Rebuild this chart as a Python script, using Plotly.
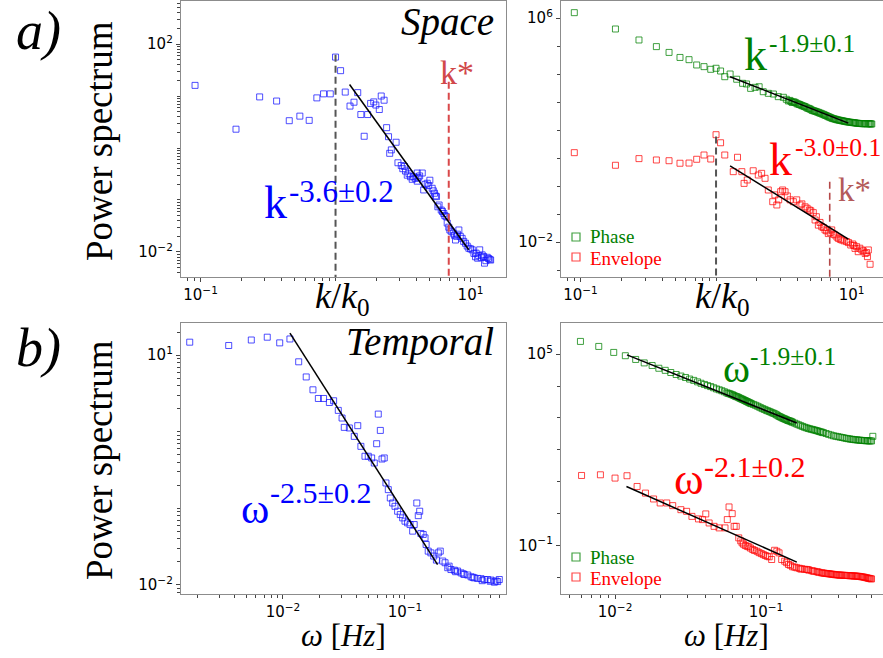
import plotly.graph_objects as go

W, H = 883, 658

# ---------------- data ----------------
# a) spatial spectrum, single series
k_space = [0.091, 0.183, 0.274, 0.366, 0.454, 0.544, 0.638, 0.727, 0.815, 0.914,
           1.0, 1.09, 1.18, 1.28, 1.37, 1.46, 1.54, 1.63, 1.73, 1.82, 1.92, 1.99,
           2.11, 2.18, 2.29, 2.39, 2.47, 2.52, 2.59, 2.81, 2.9, 3.07, 3.15, 3.24,
           3.3, 3.4, 3.5, 3.59, 3.7, 3.8, 3.9, 4.03, 4.03, 4.1, 4.2, 4.39, 4.5,
           4.6, 4.78, 4.9, 5.0, 5.2, 5.3, 5.41, 5.5, 5.6, 5.73, 5.85, 6.07, 6.2,
           6.34, 6.45, 6.6, 6.72, 6.9, 7.03, 7.2, 7.45, 7.6, 7.74, 7.9, 8.0, 8.2,
           8.4, 8.67, 8.9, 9.18, 9.45, 9.72, 10.0, 10.3, 10.6, 10.9, 11.0, 11.3,
           11.5, 11.7, 12.0, 12.2, 12.5, 12.7, 13.0, 13.3, 13.6, 13.9, 14.1]
P_space = [16, 2.3, 9.6, 8.0, 3.35, 4.1, 3.4, 9.2, 11, 11,
           56, 30.7, 11.9, 6.4, 7.6, 11.6, 4.4, 1.68, 4.4, 7.2, 7.7, 6.7,
           5.5, 10, 8.3, 2.46, 1.65, 0.79, 0.92, 1.29, 0.52, 0.46, 0.40, 0.44,
           0.36, 0.30, 0.32, 0.28, 0.25, 0.28, 0.26, 0.33, 0.23, 0.27, 0.29, 0.33, 0.156,
           0.20, 0.21, 0.19, 0.24, 0.168, 0.15, 0.135, 0.12, 0.116, 0.074, 0.08, 0.064, 0.06,
           0.055, 0.05, 0.048, 0.036, 0.03, 0.0265, 0.025, 0.023, 0.021, 0.017, 0.02, 0.022, 0.0265,
           0.02, 0.0183, 0.016, 0.0147, 0.013, 0.0118, 0.0115, 0.011, 0.0094, 0.0081, 0.0095, 0.0076,
           0.0085, 0.011, 0.0078, 0.0088, 0.0082, 0.0061, 0.0068, 0.0079, 0.0075, 0.0072, 0.007]

# a) spatial spectra of phase and envelope
k_phase = [0.09, 0.181, 0.27, 0.363, 0.45, 0.542, 0.632, 0.72, 0.815, 0.914,
           1.0, 1.08, 1.16, 1.27, 1.42, 1.57, 1.68, 1.8, 1.94, 2.08, 2.23, 2.43,
           2.65, 2.88, 3.14, 3.3, 3.42, 3.5, 3.58, 3.65, 3.72, 3.8, 3.88, 3.97,
           4.05, 4.13, 4.22, 4.31, 4.41, 4.5, 4.6, 4.7, 4.8, 4.9, 5.0, 5.11,
           5.22, 5.33, 5.45, 5.57, 5.69, 5.81, 5.93, 6.06, 6.19, 6.32, 6.45, 6.6,
           6.74, 6.88, 7.03, 7.18, 7.34, 7.5, 7.66, 7.83, 8.0, 8.17, 8.35, 8.52,
           8.7, 8.88, 9.07, 9.26, 9.46, 9.66, 9.87, 10.1, 10.3, 10.5, 10.7, 10.95,
           11.2, 11.45, 11.7, 11.95, 12.2, 12.45, 12.7, 13.0, 13.3, 13.5, 13.7,
           13.9, 14.1]
P_phase = [1.55e6, 4.05e5, 1.64e5, 9.5e4, 5.9e4, 3.9e4, 3.25e4, 2.1e4, 1.83e4, 1.47e4,
           1.6e4, 1.28e4, 8.0e3, 1.0e4, 6.5e3, 4.65e3, 4.4e3, 3.07e3, 3.34e3, 3.5e3, 2.33e3, 2.04e3,
           1.93e3, 1.55e3, 1.47e3, 1.25e3, 1.09e3, 1.14e3, 1.05e3, 960, 1.02e3, 980, 935, 860,
           849, 815, 780, 740, 720, 690, 655, 610, 596, 570, 545, 505,
           490, 475, 460, 440, 428, 405, 395, 375, 363, 345, 330, 315,
           299, 287, 275, 262, 254, 247, 240, 232, 228, 222, 218, 213,
           210, 204, 200, 197, 193, 191, 188, 185, 183, 181, 178, 175,
           173, 171, 170, 169, 168, 167, 168, 167, 168, 167, 166,
           165, 164]

k_env = [0.09, 0.181, 0.27, 0.363, 0.45, 0.542, 0.632, 0.72, 0.815, 0.914,
         1.0, 1.08, 1.16, 1.34, 1.44, 1.55, 1.61, 1.7, 1.88, 2.05, 2.17, 2.3,
         2.43, 2.62, 2.72, 2.81, 2.9, 3.0, 3.1, 3.23, 3.36, 3.52, 3.72, 3.94,
         4.17, 4.3, 4.54, 4.7, 4.88, 5.0, 5.22, 5.38, 5.5, 5.69, 5.85, 6.03,
         6.2, 6.37, 6.55, 6.74, 6.95, 7.14, 7.35, 7.55, 7.8, 8.0, 8.25, 8.47,
         8.8, 9.2, 9.5, 9.86, 10.2, 10.4, 10.6, 10.9, 11.2, 11.5, 11.9, 12.2,
         12.6, 12.9, 13.1, 13.3, 13.7]
P_env = [15.5, 5.5, 9.5, 8.5, 8.0, 6.5, 6.6, 9.0, 12.8, 9.2,
         68, 35, 12.8, 3.25, 10.6, 3.25, 1.24, 1.64, 3.5, 2.47, 2.83, 1.88,
         0.72, 0.275, 0.48, 0.21, 0.32, 0.625, 0.72, 0.625, 0.44, 0.32, 0.275, 0.32,
         0.21, 0.23, 0.18, 0.16, 0.139, 0.13, 0.112, 0.061, 0.08, 0.040, 0.05, 0.035,
         0.033, 0.027, 0.025, 0.020, 0.022, 0.027, 0.019, 0.0178, 0.015, 0.0135, 0.0125, 0.0118,
         0.011, 0.0103, 0.0095, 0.0078, 0.0085, 0.0075, 0.0059, 0.0068, 0.0045, 0.006, 0.0052, 0.0048,
         0.0039, 0.0042, 0.003, 0.0052, 0.0016]

# b) temporal spectrum, single series
f_temp = [0.00172, 0.00359, 0.0055, 0.00743, 0.0094, 0.0114, 0.01345, 0.0155, 0.0176,
          0.0195, 0.0215, 0.024, 0.026, 0.0284, 0.0305, 0.0318, 0.035, 0.0384, 0.041,
          0.0435, 0.047, 0.05, 0.0533, 0.056, 0.0586, 0.0604, 0.0628, 0.0648, 0.0676,
          0.0698, 0.073, 0.0758, 0.0793, 0.0828, 0.087, 0.0915, 0.0957, 0.1, 0.105,
          0.11, 0.1156, 0.119, 0.125, 0.1285, 0.132, 0.135, 0.141, 0.146, 0.149,
          0.155, 0.163, 0.172, 0.181, 0.1876, 0.1946, 0.204, 0.213, 0.224, 0.23,
          0.238, 0.254, 0.26, 0.27, 0.288, 0.3, 0.306, 0.327, 0.348, 0.36, 0.37,
          0.394, 0.42, 0.43, 0.447, 0.476, 0.5, 0.507, 0.54, 0.557, 0.575, 0.593]
P_temp = [14.8, 13.4, 15.8, 17.2, 14.5, 16.3, 8.2, 5.2, 3.53,
          2.72, 2.72, 2.41, 2.54, 1.9, 1.51, 1.14, 1.12, 0.87, 1.2,
          0.644, 0.478, 0.478, 0.454, 0.39, 0.697, 1.7, 1.04, 0.44, 0.454,
          0.214, 0.175, 0.136, 0.117, 0.106, 0.0914, 0.0826, 0.0748, 0.0677, 0.0644,
          0.0612, 0.0502, 0.0612, 0.117, 0.080, 0.0914, 0.0468, 0.0454, 0.041, 0.0336,
          0.0275, 0.0261, 0.0237, 0.021, 0.0261, 0.0275, 0.0204, 0.0194, 0.0167, 0.0175,
          0.0158, 0.0155, 0.0148, 0.0151, 0.0143, 0.0139, 0.0136, 0.0134, 0.0127, 0.0125, 0.0123,
          0.0121, 0.012, 0.0113, 0.0117, 0.0117, 0.0111, 0.0115, 0.0108, 0.0112, 0.011, 0.0117]

# b) temporal spectra of phase and envelope
f_phase = [0.0059, 0.0078, 0.0098, 0.0117, 0.0137, 0.0156, 0.0176, 0.0195, 0.0215,
           0.0234, 0.0254, 0.0273, 0.0293, 0.0312, 0.0332, 0.0352, 0.0371, 0.0391,
           0.041, 0.043, 0.045, 0.047, 0.049, 0.051, 0.053, 0.055, 0.0562, 0.0575,
           0.0587, 0.06, 0.0612, 0.0625, 0.0637, 0.065, 0.0662, 0.0675, 0.0687, 0.07,
           0.0712, 0.0725, 0.0737, 0.075, 0.0762, 0.0775, 0.0787, 0.08, 0.0825, 0.085,
           0.0875, 0.09, 0.0925, 0.095, 0.0975, 0.10, 0.1025, 0.105, 0.1075, 0.11,
           0.1125, 0.115, 0.1175, 0.12, 0.1225, 0.125, 0.1275, 0.13, 0.1325, 0.135,
           0.1375, 0.14, 0.1425, 0.145, 0.1475, 0.15, 0.155, 0.16, 0.165, 0.17,
           0.175, 0.18, 0.185, 0.19, 0.195, 0.20, 0.205, 0.21, 0.215, 0.22, 0.225,
           0.23, 0.235, 0.24, 0.25, 0.26, 0.27, 0.28, 0.29, 0.30, 0.31, 0.32, 0.33,
           0.34, 0.35, 0.36, 0.37, 0.38, 0.39, 0.40, 0.41, 0.42, 0.43, 0.44, 0.45,
           0.46, 0.47, 0.48, 0.49, 0.50, 0.51]
Pf_phase = [2.5e5, 1.74e5, 1.13e5, 8.9e4, 6.8e4, 5.3e4, 4.4e4, 3.6e4, 3.1e4,
            2.65e4, 2.3e4, 2.05e4, 1.85e4, 1.65e4, 1.5e4, 1.35e4, 1.22e4, 1.12e4,
            1.03e4, 9.6e3, 8.8e3, 8.1e3, 7.6e3, 7.1e3, 6.6e3, 6.1e3, 5.9e3, 5.7e3,
            5.5e3, 5.3e3, 5.05e3, 4.8e3, 4.65e3, 4.5e3, 4.3e3, 4.1e3, 3.95e3, 3.8e3,
            3.65e3, 3.5e3, 3.37e3, 3.25e3, 3.12e3, 3.0e3, 2.9e3, 2.8e3, 2.65e3, 2.5e3,
            2.35e3, 2.2e3, 2.07e3, 1.95e3, 1.85e3, 1.75e3, 1.67e3, 1.6e3, 1.52e3, 1.45e3,
            1.39e3, 1.33e3, 1.25e3, 1.17e3, 1.11e3, 1.06e3, 1.01e3, 970, 935, 900,
            865, 830, 810, 790, 760, 730, 685, 640, 605, 570,
            540, 510, 490, 470, 455, 440, 428, 415, 402, 390, 377,
            365, 355, 345, 325, 305, 290, 275, 266, 258, 250, 243, 235,
            228, 223, 218, 214, 210, 207, 205, 202, 200, 198, 196, 194,
            193, 192, 191, 190, 190, 265]

f_env = [0.006, 0.008, 0.01, 0.012, 0.014, 0.0159, 0.018, 0.0199, 0.022, 0.0241,
         0.0273, 0.0298, 0.0323, 0.0357, 0.038, 0.0399, 0.042, 0.0453, 0.0489,
         0.0535, 0.0554, 0.0569, 0.0597, 0.0615, 0.0635, 0.066, 0.068, 0.0695,
         0.071, 0.073, 0.075, 0.0769, 0.079, 0.0817, 0.084, 0.0872, 0.09, 0.093,
         0.096, 0.099, 0.102, 0.105, 0.109, 0.114, 0.118, 0.122, 0.127, 0.133,
         0.137, 0.141, 0.145, 0.15, 0.155, 0.16, 0.166, 0.17, 0.173, 0.18, 0.186,
         0.19, 0.193, 0.201, 0.205, 0.209, 0.217, 0.221, 0.225, 0.233, 0.237, 0.242,
         0.247, 0.252, 0.257, 0.262, 0.267, 0.272, 0.277, 0.282, 0.287, 0.293, 0.299,
         0.305, 0.31, 0.316, 0.323, 0.33, 0.335, 0.341, 0.348, 0.355, 0.361, 0.368,
         0.375, 0.383, 0.39, 0.397, 0.404, 0.412, 0.42, 0.428, 0.436, 0.445, 0.453,
         0.462, 0.47, 0.478, 0.485, 0.493, 0.50]
Pf_env = [15.7, 16.5, 13.0, 15.4, 7.1, 4.4, 2.88, 2.16, 2.16, 1.78,
          1.33, 1.18, 0.82, 0.683, 0.65, 0.98, 0.51, 0.40, 0.357,
          0.357, 0.65, 1.62, 1.0, 0.40, 0.40, 0.174, 0.14, 0.121,
          0.11, 0.1, 0.095, 0.091, 0.083, 0.075, 0.07, 0.066, 0.06, 0.056,
          0.052, 0.0487, 0.046, 0.0443, 0.0365, 0.071, 0.066, 0.059, 0.0365, 0.0323,
          0.029, 0.0255, 0.024, 0.0216, 0.021, 0.0201, 0.0194, 0.0183, 0.0187, 0.018, 0.0178,
          0.0174, 0.017, 0.0162, 0.0159, 0.0156, 0.0151, 0.0148, 0.0145, 0.014, 0.0138, 0.0136,
          0.0134, 0.0133, 0.0131, 0.013, 0.0128, 0.0127, 0.0125, 0.0124, 0.0122, 0.0121, 0.012,
          0.0119, 0.0118, 0.0118, 0.0117, 0.0116, 0.0116, 0.0115, 0.0115, 0.0114, 0.0113, 0.0113,
          0.0112, 0.0111, 0.0111, 0.011, 0.0109, 0.0108, 0.0107, 0.0105, 0.0104, 0.0102, 0.01,
          0.0098, 0.0096, 0.0094, 0.0093, 0.0091, 0.009]

# power-law fits: exponent, amplitude and fitted range
fit_space = dict(exp=-3.6, amp=39.3, x=[1.27, 9.7])
fit_k_phase = dict(exp=-1.9, amp=1.26e4, x=[1.27, 9.47])
fit_k_env = dict(exp=-3.0, amp=10.7, x=[1.27, 9.47])
fit_temp = dict(exp=-2.5, amp=2.70e-4, x=[0.0114, 0.185])
fit_f_phase = dict(exp=-1.9, amp=21.2, x=[0.012, 0.16])
fit_f_env = dict(exp=-2.1, amp=6.44e-4, x=[0.0119, 0.16])

# reference wavenumbers (peak k0 and k*) and the top of their markers
k0_line = dict(k=1.0, top_left=62, top_right=58)
kstar_line = dict(k=6.9, top_left=18.8, top_right=1.43)

# axis ranges (log10)
rng = {
    "x": [-1.145, 1.263], "y": [-2.481, 2.827],
    "x2": [-1.144, 1.232], "y2": [-3.25, 6.607],
    "x3": [-2.836, -0.172], "y3": [-2.121, 1.421],
    "x4": [-2.358, -0.225], "y4": [-2.519, 5.975],
}

BLUE = "rgba(20,20,255,0.75)"
GREEN = "rgba(0,128,0,0.75)"
RED = "rgba(255,0,0,0.72)"
SERIF = "'Liberation Serif', 'Times New Roman', Times, 'Nimbus Roman', serif"

fig = go.Figure()


def points(x, y, color, xa, ya):
    fig.add_trace(go.Scatter(
        x=x, y=y, mode="markers", xaxis=xa, yaxis=ya, showlegend=False,
        marker=dict(symbol="square-open", size=6, color=color, line=dict(width=1, color=color)),
        hoverinfo="skip"))


def fit(f, xa, ya):
    xs = f["x"]
    ys = [f["amp"] * v ** f["exp"] for v in xs]
    fig.add_trace(go.Scatter(x=xs, y=ys, mode="lines", xaxis=xa, yaxis=ya, showlegend=False,
                             line=dict(color="black", width=1.5), hoverinfo="skip"))


def vline(k, top, yaxis_key, color, xa, ya, width=2.0):
    bottom = 10 ** rng[yaxis_key][0]
    fig.add_trace(go.Scatter(x=[k, k], y=[top, bottom], mode="lines", xaxis=xa, yaxis=ya,
                             showlegend=False, hoverinfo="skip",
                             line=dict(color=color, width=width, dash="7px,4px")))


# panel a, left
points(k_space, P_space, BLUE, "x", "y")
vline(k0_line["k"], k0_line["top_left"], "y", "#555555", "x", "y")
vline(kstar_line["k"], kstar_line["top_left"], "y", "#d9484a", "x", "y")
fit(fit_space, "x", "y")

# panel a, right
points(k_phase, P_phase, GREEN, "x2", "y2")
points(k_env, P_env, RED, "x2", "y2")
vline(k0_line["k"], k0_line["top_right"], "y2", "#555555", "x2", "y2")
vline(kstar_line["k"], kstar_line["top_right"], "y2", "#b44848", "x2", "y2", width=1.6)
fit(fit_k_phase, "x2", "y2")
fit(fit_k_env, "x2", "y2")

# panel b, left
points(f_temp, P_temp, BLUE, "x3", "y3")
fit(fit_temp, "x3", "y3")

# panel b, right
points(f_phase, Pf_phase, GREEN, "x4", "y4")
points(f_env, Pf_env, RED, "x4", "y4")
fit(fit_f_phase, "x4", "y4")
fit(fit_f_env, "x4", "y4")


# ---------------- axes ----------------
def sup(e):
    return "10<sup>" + (str(e) if e >= 0 else "\u2212" + str(-e)) + "</sup>"


def subs(lo, hi, decades=()):
    vals = [m * 10.0 ** e for e in range(lo, hi + 1) for m in range(2, 10)]
    return vals + [10.0 ** d for d in decades]


def axis(key, domain, labelled, minor_vals, anchor):
    return dict(
        type="log", domain=domain, range=rng[key], anchor=anchor,
        showline=True, mirror=True, linecolor="#8c8c8c", linewidth=1.3,
        showgrid=False, zeroline=False,
        ticks="outside", ticklen=4, tickwidth=1, tickcolor="#444444",
        tickmode="array", tickvals=[10.0 ** d for d in labelled],
        ticktext=[sup(d) for d in labelled],
        tickfont=dict(family="DejaVu Sans", size=15, color="black"),
        minor=dict(tickmode="array", tickvals=minor_vals, ticks="outside",
                   ticklen=2.5, tickwidth=0.8, tickcolor="#444444", showgrid=False),
    )


dx_left = [181 / W, 506 / W]
dx_right = [561 / W, 1.0]
dy_top = [1 - 277 / H, 1 - 1 / H]
dy_bot = [1 - 594 / H, 1 - 323 / H]

fig.update_layout(
    xaxis=axis("x", dx_left, [-1, 1], subs(-2, 1, [0]), "y"),
    yaxis=axis("y", dy_top, [-2, 2], subs(-3, 2, [-1, 0, 1]), "x"),
    xaxis2=axis("x2", dx_right, [-1, 1], subs(-2, 1, [0]), "y2"),
    yaxis2=axis("y2", dy_top, [-2, 6], [10.0 ** d for d in (-3, -1, 0, 1, 2, 3, 4, 5)], "x2"),
    xaxis3=axis("x3", dx_left, [-2, -1], subs(-3, -1), "y3"),
    yaxis3=axis("y3", dy_bot, [-2, 1], subs(-3, 1, [-1, 0]), "x3"),
    xaxis4=axis("x4", dx_right, [-2, -1], subs(-3, -1), "y4"),
    yaxis4=axis("y4", dy_bot, [-1, 5], [10.0 ** d for d in (-2, 0, 1, 2, 3, 4)], "x4"),
)


# ---------------- text ----------------
def label(text, x, y, size, color="black", xanchor="left", style="normal", angle=0, weight="normal"):
    return dict(text=text, x=x / W, y=1 - y / H, xref="paper", yref="paper",
                xanchor=xanchor, yanchor="middle", showarrow=False, textangle=angle,
                font=dict(family=SERIF, size=size, color=color, style=style, weight=weight))


ann = [
    label("a)", 38, 31, 54, xanchor="center", style="italic"),
    label("b)", 38, 348, 54, xanchor="center", style="italic"),
    label("Power spectrum", 99, 141, 37, xanchor="center", angle=-90),
    label("Power spectrum", 99, 460, 37, xanchor="center", angle=-90),
    label("Space", 496, 22, 39, xanchor="right", style="italic"),
    label("Temporal", 496, 342, 39, xanchor="right", style="italic"),
    label("<i>k</i>/<i>k</i><sub>0</sub>", 342, 298, 36, xanchor="center"),
    label("<i>k</i>/<i>k</i><sub>0</sub>", 722, 298, 36, xanchor="center"),
    label("<i>\u03c9</i> [<i>Hz</i>]", 343, 635, 31, xanchor="center"),
    label("<i>\u03c9</i> [<i>Hz</i>]", 726, 635, 31, xanchor="center"),
    # panel a, left
    label("k*", 438, 73, 34, color="#d1484a"),
    label("k", 262, 202, 46, color="#0000ff"),
    label("-3.6\u00b10.2", 287, 191, 31, color="#0000ff"),
    # panel a, right
    label("k", 742, 54, 46, color="#008000"),
    label("-1.9\u00b10.1", 767, 44, 25.5, color="#008000"),
    label("k", 767, 159, 46, color="#ff0000"),
    label("-3.0\u00b10.1", 793, 148, 25.5, color="#ff0000"),
    label("k*", 836, 190, 33, color="#b45a5a"),
    label("Phase", 588, 237, 19, color="#008000"),
    label("Envelope", 588, 258, 19, color="#ff0000"),
    # panel b, left
    label("\u03c9", 239, 508, 43, color="#0000ff"),
    label("-2.5\u00b10.2", 268, 492, 30, color="#0000ff"),
    # panel b, right
    label("\u03c9", 721, 368, 41, color="#008000"),
    label("-1.9\u00b10.1", 748, 356, 25.5, color="#008000"),
    label("\u03c9", 672, 479, 45, color="#ff0000"),
    label("-2.1\u00b10.2", 702, 466, 30, color="#ff0000"),
    label("Phase", 588, 557, 19, color="#008000"),
    label("Envelope", 588, 578, 19, color="#ff0000"),
]


def key_box(cx, cy, color):
    return dict(type="rect", xref="paper", yref="paper",
                x0=(cx - 4) / W, x1=(cx + 4) / W, y0=1 - (cy + 4) / H, y1=1 - (cy - 4) / H,
                line=dict(color=color, width=1.2), fillcolor="rgba(0,0,0,0)")


shapes = [key_box(576, 237, GREEN), key_box(576, 257, RED),
          key_box(576, 557, GREEN), key_box(576, 577, RED)]

fig.update_layout(
    width=W, height=H, autosize=False,
    margin=dict(l=0, r=0, t=0, b=0),
    paper_bgcolor="white", plot_bgcolor="white",
    showlegend=False, annotations=ann, shapes=shapes,
)

fig.write_html("out.html")
